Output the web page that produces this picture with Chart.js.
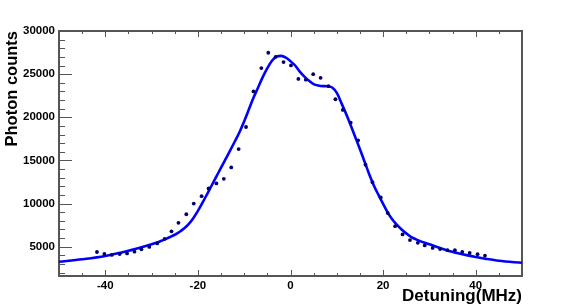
<!DOCTYPE html>
<html>
<head>
<meta charset="utf-8">
<script src="https://cdn.jsdelivr.net/npm/chart.js"></script>
<style>
  html, body { margin: 0; padding: 0; background: #fff; }
  #wrap { width: 581px; height: 307px; }
</style>
</head>
<body>
<div id="wrap"><canvas id="myChart" width="581" height="307"></canvas></div>
<script>
// measured points
const detuning = [-41.8, -40.2, -38.6, -36.9, -35.3, -33.7, -32.2, -30.5, -28.8, -27.2,
    -25.7, -24.2, -22.5, -20.9, -19.2, -17.7, -16.0, -14.4, -12.8, -11.2,
    -9.6, -8.0, -6.3, -4.8, -3.2, -1.5, 0.1, 1.7, 3.3, 4.9,
    6.5, 8.2, 9.7, 11.3, 13.0, 14.6, 16.2, 17.7, 19.5, 21.0,
    22.6, 24.2, 25.8, 27.5, 29.0, 30.7, 32.3, 33.9, 35.5, 37.1,
    38.7, 40.4, 42.0]
const counts = [4380, 4150, 4040, 4150, 4220, 4420, 4690, 4970, 5380, 5900,
    6780, 7760, 8760, 10000, 10850, 11740, 12330, 12870, 14190, 16310,
    18870, 22990, 25700, 27480, 27010, 26400, 26010, 24450, 24360, 25000,
    24570, 23600, 22090, 20850, 19380, 17330, 14500, 12480, 10700, 8900,
    7380, 6420, 5760, 5440, 5150, 4860, 4730, 4590, 4590, 4400,
    4280, 4130, 3950]

// fitted curve
const fitX = [-50, -45, -40, -35, -32, -30, -29, -28, -27, -26,
    -25, -24, -23, -22, -21, -20, -19, -18, -17, -16,
    -15, -14, -13, -12, -11, -10, -9, -8, -7, -6,
    -5, -4, -3, -2, -1, 0, 1, 2, 3, 4,
    5, 6, 7, 8, 9, 10, 11, 12, 13, 14,
    15, 16, 17, 18, 19, 20, 21, 22, 23, 24,
    25, 26, 27, 28, 29, 30, 32, 34, 36, 38,
    40, 42, 45, 50]
const fitY = [3250, 3540, 3920, 4520, 4960, 5280, 5460, 5660, 5880, 6120,
    6380, 6700, 7100, 7620, 8300, 9150, 10100, 11100, 12120, 13140,
    14160, 15170, 16180, 17220, 18300, 19550, 20900, 22250, 23450, 24650,
    25700, 26550, 27050, 27120, 26920, 26500, 26000, 25300, 24720, 24230,
    23850, 23680, 23610, 23600, 23450, 22820, 21640, 20400, 19070, 17690,
    16300, 14850, 13400, 12100, 11000, 9970, 8950, 8150, 7520, 7000,
    6540, 6140, 5870, 5640, 5450, 5280, 4900, 4530, 4260, 4020,
    3800, 3610, 3360, 3130]

const xTickLabels = [-40, -20, 0, 20, 40]
const yTickLabels = [5000, 10000, 15000, 20000, 25000, 30000]

const fontFamily = '"Liberation Sans", Arial, Helvetica, sans-serif'
const frameColor = '#555'

// ROOT style frame: ticks drawn inside the box, minor ticks too
const rootFrame = {
    id: 'rootFrame',
    beforeDatasetsDraw(chart) {
        const { ctx, chartArea: a, scales } = chart
        const xs = scales.x
        const ys = scales.y
        ctx.save()
        ctx.strokeStyle = frameColor
        ctx.lineWidth = 1
        for (let v = -45; v <= 45; v += 5) {
            const px = Math.round(xs.getPixelForValue(v)) + 0.5
            const len = v % 20 === 0 ? 6 : 3
            ctx.beginPath()
            ctx.moveTo(px, a.bottom)
            ctx.lineTo(px, a.bottom - len)
            ctx.moveTo(px, a.top)
            ctx.lineTo(px, a.top + len)
            ctx.stroke()
        }
        for (let v = 2000; v <= 30000; v += 1000) {
            const py = Math.round(ys.getPixelForValue(v)) + 0.5
            const len = v % 5000 === 0 ? 13 : 6
            ctx.beginPath()
            ctx.moveTo(a.left, py)
            ctx.lineTo(a.left + len, py)
            ctx.stroke()
        }
        ctx.lineWidth = 2
        ctx.strokeRect(a.left, a.top, a.right - a.left, a.bottom - a.top)
        ctx.restore()
    }
}

let ctx = document.getElementById('myChart').getContext('2d')
const myChart = new Chart(ctx, {
    type: 'scatter',
    data: {
        datasets: [
            {
                label: 'data',
                data: detuning.map((x, i) => ({ x: x, y: counts[i] })),
                showLine: false,
                pointRadius: 1.9,
                pointBorderWidth: 0,
                pointBackgroundColor: '#00006e',
                order: 0
            },
            {
                label: 'fit',
                data: fitX.map((x, i) => ({ x: x, y: fitY[i] })),
                showLine: true,
                borderColor: '#0000ff',
                borderWidth: 2.6,
                pointRadius: 0,
                cubicInterpolationMode: 'monotone',
                order: 1
            }
        ]
    },
    options: {
        responsive: false,
        animation: false,
        devicePixelRatio: 1,
        layout: { padding: { top: 31, right: 59, left: 0, bottom: 0 } },
        plugins: {
            legend: { display: false },
            tooltip: { enabled: false }
        },
        scales: {
            x: {
                type: 'linear',
                min: -50,
                max: 50,
                afterBuildTicks: (scale) => { scale.ticks = xTickLabels.map(v => ({ value: v })) },
                afterFit: (scale) => { scale.height = 31 },
                grid: { display: false, drawTicks: false },
                border: { display: false },
                ticks: {
                    padding: 3,
                    autoSkip: false,
                    maxRotation: 0,
                    color: '#000',
                    callback: (v) => String(v),
                    font: { family: fontFamily, size: 11.5, weight: 'bold' }
                },
                title: {
                    display: true,
                    text: 'Detuning(MHz)',
                    align: 'end',
                    color: '#000',
                    padding: { top: 0, bottom: 0 },
                    font: { family: fontFamily, size: 17, weight: 'bold' }
                }
            },
            y: {
                min: 1600,
                max: 30000,
                afterBuildTicks: (scale) => { scale.ticks = yTickLabels.map(v => ({ value: v })) },
                afterFit: (scale) => { scale.width = 59 },
                grid: { display: false, drawTicks: false },
                border: { display: false },
                ticks: {
                    padding: 4,
                    autoSkip: false,
                    color: '#000',
                    callback: (v) => String(v),
                    font: { family: fontFamily, size: 11.5, weight: 'bold' }
                },
                title: {
                    display: true,
                    text: 'Photon counts',
                    align: 'end',
                    color: '#000',
                    padding: { top: 3, bottom: 0 },
                    font: { family: fontFamily, size: 16.5, weight: 'bold' }
                }
            }
        }
    },
    plugins: [rootFrame]
})
</script>
</body>
</html>
